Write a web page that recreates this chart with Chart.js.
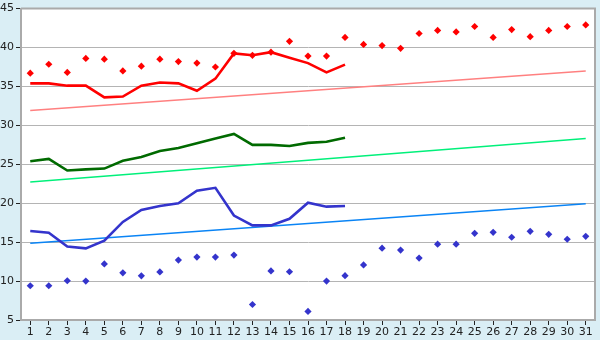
<!DOCTYPE html>
<html>
<head>
<meta charset="utf-8">
<script src="https://cdn.jsdelivr.net/npm/chart.js@4/dist/chart.umd.min.js"></script>
<style>
html,body{margin:0;padding:0;background:#daeef5;}
#wrap{width:600px;height:340px;position:relative;}
</style>
</head>
<body>
<div id="wrap"><canvas id="c" width="600" height="340"></canvas></div>
<script>
const days = Array.from({length:31},(_,i)=>String(i+1));
const yTicks = [5,10,15,20,25,30,35,40,45];

const maxPoints = [36.7,37.85,36.8,38.6,38.5,37.0,37.6,38.5,38.2,38.0,37.5,39.25,39.0,39.4,40.8,38.9,38.9,41.3,40.4,40.25,39.9,41.8,42.2,42.0,42.7,41.3,42.3,41.4,42.2,42.7,42.9];
const maxLine = [35.4,35.4,35.1,35.1,33.6,33.7,35.1,35.5,35.4,34.45,36.0,39.25,39.0,39.4,38.7,38.0,36.8,37.8];
const maxTrend = [31.9,null,null,null,null,null,null,null,null,null,null,null,null,null,null,null,null,null,null,null,null,null,null,null,null,null,null,null,null,null,37.0];

const meanLine = [25.4,25.7,24.2,24.35,24.45,25.45,25.95,26.7,27.1,27.7,28.3,28.9,27.5,27.5,27.35,27.75,27.9,28.4];
const meanTrend = [22.74,null,null,null,null,null,null,null,null,null,null,null,null,null,null,null,null,null,null,null,null,null,null,null,null,null,null,null,null,null,28.3];

const minLine = [16.43,16.2,14.43,14.2,15.2,17.6,19.13,19.64,19.98,21.6,21.98,18.42,17.15,17.15,18.0,20.07,19.56,19.64];
const minTrend = [14.86,null,null,null,null,null,null,null,null,null,null,null,null,null,null,null,null,null,null,null,null,null,null,null,null,null,null,null,null,null,19.94];
const minPoints = [9.4,9.4,10.04,10.0,12.2,11.06,10.68,11.18,12.7,13.08,13.08,13.34,6.99,11.3,11.2,6.1,10.0,10.7,12.07,14.23,13.98,12.96,14.74,14.74,16.14,16.26,15.63,16.39,16.0,15.37,15.75];

const bgPlugin = {
  id:'bg',
  beforeDraw(chart){
    const {ctx, chartArea:a} = chart;
    ctx.save();
    ctx.fillStyle = '#daeef5';
    ctx.fillRect(0,0,chart.width,chart.height);
    ctx.fillStyle = '#ffffff';
    ctx.fillRect(a.left,a.top,a.right-a.left,a.bottom-a.top);
    ctx.restore();
  },
  afterDraw(chart){
    const {ctx, chartArea:a} = chart;
    ctx.save();
    ctx.strokeStyle = '#aaaaaa';
    ctx.lineWidth = 2;
    ctx.beginPath();
    ctx.moveTo(a.left, a.top);
    ctx.lineTo(a.right, a.top);
    ctx.lineTo(a.right, a.bottom);
    ctx.stroke();
    ctx.restore();
  }
};

const pt = (data,color) => ({data, borderColor:color, backgroundColor:color, showLine:false, pointStyle:'rectRot', pointRadius:3.6, pointBorderWidth:0, pointHoverRadius:3.6});
const ln = (data,color,w) => ({data, borderColor:color, backgroundColor:color, borderWidth:w, pointRadius:0, pointHoverRadius:0, tension:0, spanGaps:true, fill:false});

new Chart(document.getElementById('c'), {
  type:'line',
  data:{
    labels: days,
    datasets:[
      Object.assign(pt(maxPoints,'#ff0000'),{order:1}),
      Object.assign(ln(maxLine,'#ff0000',2.6),{order:2}),
      Object.assign(ln(maxTrend,'#ff8080',1.5),{order:5}),
      Object.assign(ln(meanLine,'#006a00',2.6),{order:3}),
      Object.assign(ln(meanTrend,'#00f07a',1.5),{order:6}),
      Object.assign(ln(minLine,'#3434cc',2.6),{order:4}),
      Object.assign(ln(minTrend,'#0a84f5',1.5),{order:7}),
      Object.assign(pt(minPoints,'#3434cc'),{order:0})
    ]
  },
  plugins:[bgPlugin],
  options:{
    responsive:false,
    animation:false,
    devicePixelRatio:1,
    layout:{padding:{top:5,right:5,left:0,bottom:0}},
    plugins:{legend:{display:false},tooltip:{enabled:false}},
    scales:{
      x:{
        type:'category',
        offset:true,
        grid:{display:true,drawOnChartArea:false,drawTicks:true,tickLength:5,tickColor:'#222222',offset:false},
        border:{color:'#aaaaaa',width:2},
        ticks:{color:'#222222',font:{family:'DejaVu Sans',size:11},padding:1,maxRotation:0,autoSkip:false},
        afterFit(s){ s.height = 20; }
      },
      y:{
        min:5,max:45,
        afterBuildTicks(s){ s.ticks = yTicks.map(v=>({value:v})); },
        grid:{color:'#b4b4b4',lineWidth:1,tickLength:5,tickColor:'#222222'},
        border:{color:'#aaaaaa',width:2},
        ticks:{color:'#222222',font:{family:'DejaVu Sans',size:11},padding:2},
        afterFit(s){ s.width = 21; }
      }
    }
  }
});
</script>
</body>
</html>
